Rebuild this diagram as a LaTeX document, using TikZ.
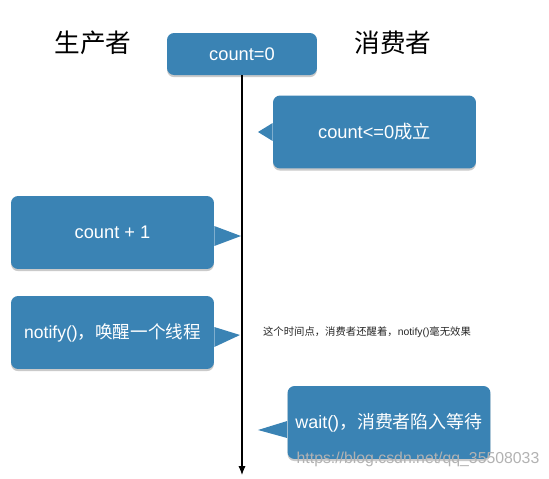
\documentclass[tikz,border=0pt]{standalone}
\usepackage{fontspec}
\setmainfont{Liberation Sans}
\newfontfamily\cjk{Noto Sans CJK SC}
\usepackage{tikz}
\usetikzlibrary{arrows.meta, positioning, shadows}
\definecolor{boxblue}{RGB}{58,131,180}
\tikzset{
    bbox/.style={rectangle, rounded corners=4pt, fill=boxblue, text=white,
                 minimum width=4.06cm, minimum height=1.46cm,
                 font=\fontsize{10}{12}\selectfont,
                 drop shadow={shadow xshift=0pt, shadow yshift=-1.2pt,
                              opacity=0.35, fill=black!60}},
    tail/.style={fill=boxblue},
    head/.style={font=\cjk\fontsize{14.6}{17}\selectfont},
    notetxt/.style={font=\fontsize{5.9}{7}\selectfont, text=black!85},
    wmark/.style={font=\fontsize{9}{10}\selectfont, text=black!30},
    arr/.style={-{Latex[length=5pt,width=4pt]}, semithick, draw=black}
}
\begin{document}
\begin{tikzpicture}[x=0.02cm, y=-0.02cm]
\useasboundingbox (0,0) rectangle (549,478);

\node[head] (prod) at (93,43)  {生产者};
\node[head] (cons) at (393,43) {消费者};

\node[bbox, minimum width=3cm, minimum height=0.84cm, font=\fontsize{10.4}{12}\selectfont] (cnt) at (242,54) {count=0};
\node[bbox, font=\fontsize{10.4}{12}\selectfont] (cond) at (374.5,132) {count<=0{\cjk 成立}};
\node[bbox, font=\fontsize{10.4}{12}\selectfont] (inc) at (112.5,232.5) {count + 1};
\node[bbox] (ntf) at (112.5,332.5) {notify(){\cjk ，唤醒一个线程}};
\node[bbox, font=\fontsize{10.2}{12}\selectfont] (wt) at (389,422.5) {wait(){\cjk ，消费者陷入等待}};

\node[notetxt] (note) at (367,332) {{\cjk 这个时间点，消费者还醒着，}notify(){\cjk 毫无效果}};
\node[wmark] (url) at (418,459) {https://blog.csdn.net/qq\_35508033};

% time line
\coordinate (tend) at (242,475);
\draw[arr] (cnt.south) -- (tend);

% callout tails
\coordinate (p1) at (258,132);
\coordinate (p2) at (241,236);
\coordinate (p3) at (240,335);
\coordinate (p4) at (258,430);
\fill[tail] (cond.west |- 0,123) -- (p1) -- (cond.west |- 0,141) -- cycle;
\fill[tail] (inc.east |- 0,226) -- (p2) -- (inc.east |- 0,246) -- cycle;
\fill[tail] (ntf.east |- 0,327) -- (p3) -- (ntf.east |- 0,347) -- cycle;
\fill[tail] (wt.west |- 0,421) -- (p4) -- (wt.west |- 0,438) -- cycle;
\end{tikzpicture}
\end{document}
